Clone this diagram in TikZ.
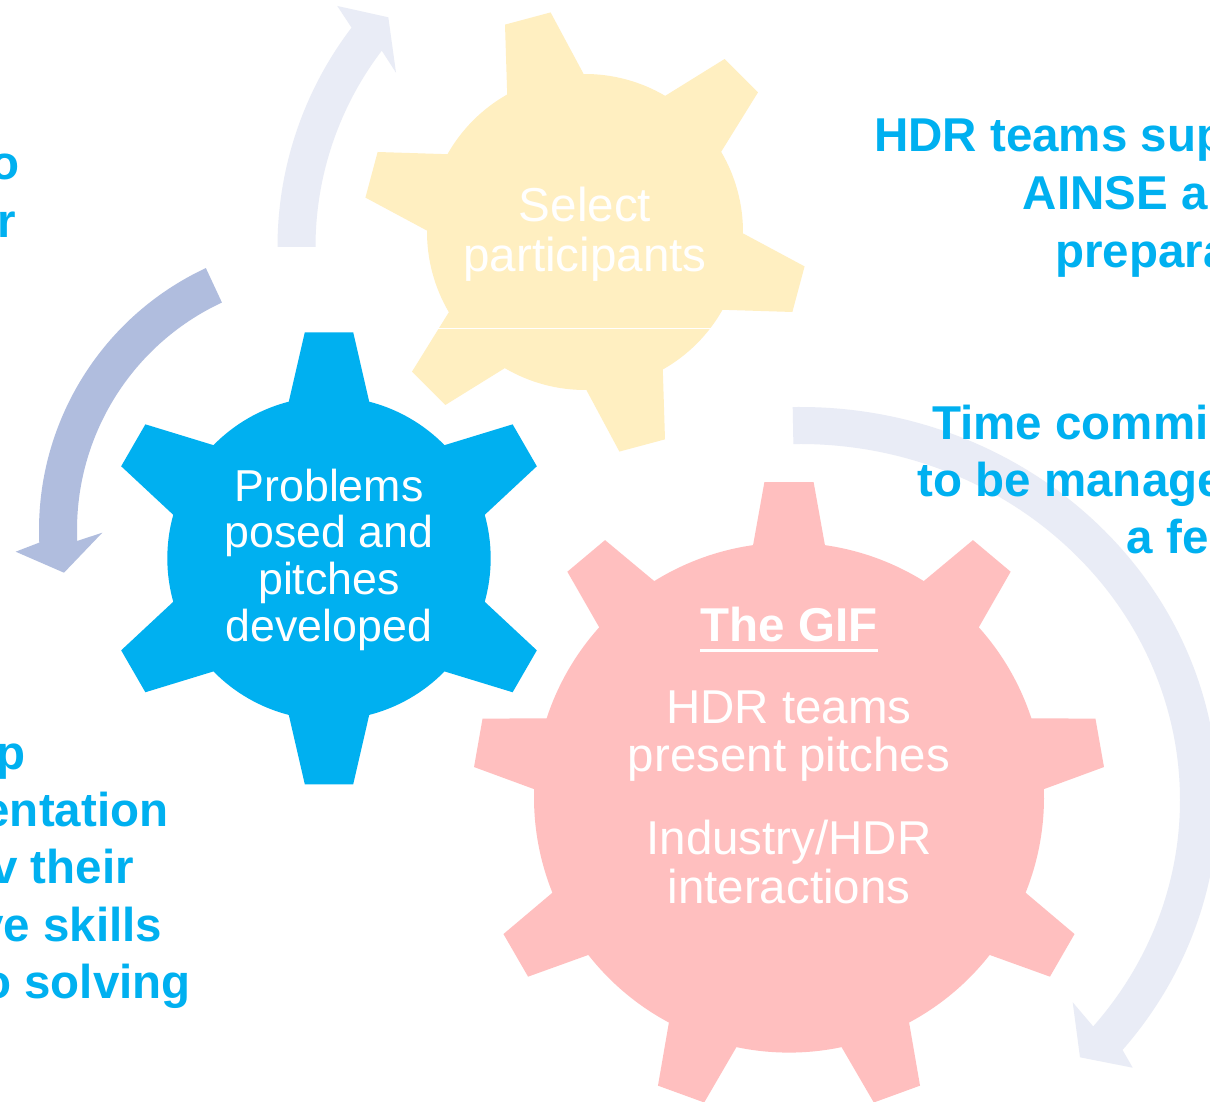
\documentclass[tikz,border=0pt]{standalone}
\usepackage{fontspec}
\setmainfont{Liberation Sans}
\definecolor{cBlue}{RGB}{0,176,240}
\definecolor{cYellow}{RGB}{255,239,193}
\definecolor{cPink}{RGB}{255,191,191}
\definecolor{cArrowLight}{RGB}{233,236,246}
\definecolor{cArrowDark}{RGB}{176,189,222}
% #1 style, #2 cx, #3 cy, #4 teeth, #5 first angle, #6 body radius, #7 tip radius, #8 base half-angle, #9 tip half-width
\newcommand\drawgear[9]{%
  \fill[#1] ([shift={(#2,#3)}]#5-#8:#6pt)
  \foreach \k [evaluate=\k as \t using {#5+(\k-1)*360/#4}] in {1,...,#4}{
    -- ([shift={(#2,#3)}]\t-#8:#6pt)
    -- ([shift={(#2,#3)},shift={(\t:#7pt)}]\t-90:#9pt)
    -- ([shift={(#2,#3)},shift={(\t:#7pt)}]\t+90:#9pt)
    -- ([shift={(#2,#3)}]\t+#8:#6pt)
    arc[start angle=\t+#8, end angle=\t+360/#4-#8, radius=#6pt]
  } -- cycle;}
\tikzset{
  geartxt/.style={text=white, inner sep=0pt, anchor=base},
  bluetxt/.style={geartxt, font=\fontsize{44.7}{46.7}\selectfont},
  yellowtxt/.style={geartxt, font=\fontsize{47.6}{50}\selectfont},
  pinktxt/.style={geartxt, font=\fontsize{47.5}{48.4}\selectfont},
  pinkhead/.style={geartxt, font=\bfseries\fontsize{47.5}{48.4}\selectfont},
  sidetxt/.style={text=cBlue, inner sep=0pt, font=\bfseries\fontsize{47.5}{57}\selectfont},
  sideR/.style={sidetxt, anchor=base west},
  sideL/.style={sidetxt, anchor=base east},
}
\begin{document}
\begin{tikzpicture}[x=1pt, y=1pt]
\useasboundingbox (0,0) rectangle (1210,1101);
\fill[white] (0,0) rectangle (1210,1101);
\clip (0,0) rectangle (1210,1101);

% circular arrows
\fill[cArrowDark] ([shift={(328,571)}]115:289pt) arc[start angle=115, end angle=182.5, radius=289pt]
  -- (15.7,549.3) -- (64,528.3) -- (102.3,568.3)
  -- ([shift={(328,571)}]182.5:251pt) arc[start angle=182.5, end angle=115, radius=251pt] -- cycle;
\fill[cArrowLight] ([shift={(639.5,854)}]180:362pt) arc[start angle=180, end angle=142.7, radius=362pt]
  -- (337.3,1095) -- (388.3,1083.7) -- (396,1028.3)
  -- ([shift={(639.5,854)}]142.7:324pt) arc[start angle=142.7, end angle=180, radius=324pt] -- cycle;
\fill[cArrowLight] ([shift={(800,301)}]91:418pt and 393pt)
  arc[start angle=91, end angle=-39.5, x radius=418pt, y radius=393pt]
  -- (1132.7,33.3) -- (1080,43.7) -- (1072.7,98.7)
  -- ([shift={(800,301)}]-39.5:380pt and 356pt)
  arc[start angle=-39.5, end angle=91, x radius=380pt, y radius=356pt] -- cycle;

% gears
\drawgear{cYellow}{585}{869}{6}{105}{158}{221}{14.5}{23.6}
\draw[white, line width=1pt] (438,772.7) -- (712,772.7);
\drawgear{cBlue}{329}{542.7}{6}{90}{161.7}{226}{14.4}{24.2}
\drawgear{cPink}{789}{303.4}{9}{90}{255}{315.5}{8.1}{24.6}

% gear texts
\node[yellowtxt] (y1) at (585,879.3) {Select};
\node[yellowtxt] (y2) at (585,829.3) {participants};
\node[bluetxt] (b1) at (329,599) {Problems};
\node[bluetxt] (b2) at (329,553) {posed and};
\node[bluetxt] (b3) at (329,506) {pitches};
\node[bluetxt] (b4) at (329,459) {developed};
\node[pinkhead] (p0) at (789,459.3) {The GIF};
\draw[white, line width=3pt] ([yshift=-8.8pt]p0.base west) -- ([yshift=-8.8pt]p0.base east);
\node[pinktxt] (p1) at (789,377.7) {HDR teams};
\node[pinktxt] (p2) at (789,329.3) {present pitches};
\node[pinktxt] (p3) at (789,246) {Industry/HDR};
\node[pinktxt] (p4) at (789,197.7) {interactions};

% side texts (cut by the picture edge)
\node[sideR] (r1) at (874,949.3) {HDR teams sup};
\node[sideR] (r2) at (1022.5,891) {AINSE a};
\node[sideR] (r3) at (1055.2,833) {prepara};
\node[sideR] (r4) at (932,661.7) {Time commi};
\node[sideR] (r5) at (917.5,604.3) {to be manage};
\node[sideR] (r6) at (1126.5,547.7) {a fe};
\node[sideL] (l1) at (20,921) {o};
\node[sideL] (l2) at (16.5,863.7) {r};
\node[sideL] (l3) at (25.3,331.6) {p};
\node[sideL] (l4) at (168.5,274.3) {entation};
\node[sideL] (l5) at (134,218) {v their};
\node[sideL] (l6) at (162.5,159.3) {ve skills};
\node[sideL] (l7) at (191,103) {o solving};
\end{tikzpicture}
\end{document}
